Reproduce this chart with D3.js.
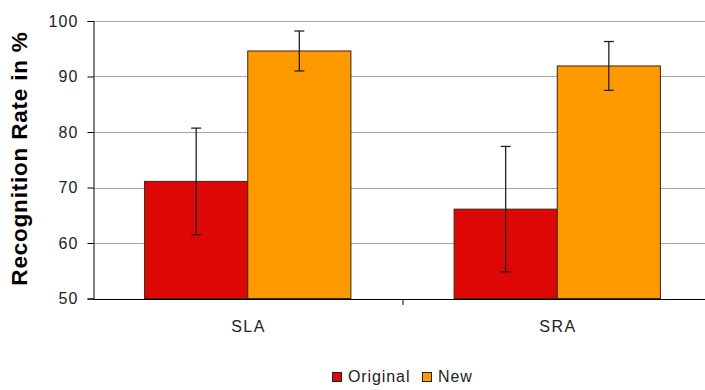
<!DOCTYPE html>
<html><head><meta charset="utf-8">
<script src="https://cdn.jsdelivr.net/npm/d3@7"></script>
<style>body{margin:0;background:#fff;overflow:hidden}svg{display:block}</style>
</head><body>
<svg id="c" width="705" height="390"></svg>
<script>
const categories = ["SLA", "SRA"];
const seriesNames = ["Original", "New"];
const originalValues = [71.1, 66.1];
const newValues = [94.6, 91.9];
const originalErrors = [9.6, 11.3];
const newErrors = [3.6, 4.4];
const yTicks = [50, 60, 70, 80, 90, 100];
const colors = ["#dd0806", "#ff9900"];

(function () {
const svg = d3.select("#c");
const pL = 93, pR = 712, pT = 21, pB = 298.5;
const x = d3.scaleBand().domain(categories).range([pL, pR]).paddingInner(0).paddingOuter(0);
const y = d3.scaleLinear().domain([50, 100]).range([pB, pT]);
const font = "Arial, 'Liberation Sans', sans-serif";

// grid
svg.append("g").selectAll("line").data(yTicks.slice(1)).join("line")
  .attr("x1", pL).attr("x2", 705).attr("y1", d => Math.round(y(d)) + 0.5).attr("y2", d => Math.round(y(d)) + 0.5)
  .attr("stroke", "#a6a6a6").attr("stroke-width", 1);

// bars
const groupW = x.bandwidth() * (2 / 3);
const barW = groupW / 2;
const data = [];
categories.forEach((c, i) => {
  data.push({c, s: 0, v: originalValues[i], e: originalErrors[i]});
  data.push({c, s: 1, v: newValues[i], e: newErrors[i]});
});
const bx = d => x(d.c) + (x.bandwidth() - groupW) / 2 + d.s * barW;
svg.append("g").selectAll("rect").data(data).join("rect")
  .attr("x", d => bx(d)).attr("y", d => y(d.v)).attr("width", barW).attr("height", d => y(50) - y(d.v))
  .attr("fill", d => colors[d.s]).attr("stroke", "#3a2418").attr("stroke-width", 1);

// error bars
const eg = svg.append("g").attr("stroke", "#222").attr("stroke-width", 1.3);
data.forEach(d => {
  const cx = bx(d) + barW / 2;
  eg.append("line").attr("x1", cx).attr("x2", cx).attr("y1", y(d.v + d.e)).attr("y2", y(d.v - d.e));
  eg.append("line").attr("x1", cx - 5).attr("x2", cx + 5).attr("y1", y(d.v + d.e)).attr("y2", y(d.v + d.e));
  eg.append("line").attr("x1", cx - 5).attr("x2", cx + 5).attr("y1", y(d.v - d.e)).attr("y2", y(d.v - d.e));
});

// y axis
const yAxis = d3.axisLeft(y).tickValues(yTicks).tickSize(6).tickPadding(10);
const ya = svg.append("g").attr("transform", `translate(${pL + 0.5},0)`).call(yAxis);
ya.select(".domain").attr("stroke", "#000");
ya.selectAll(".tick line").attr("stroke", "#000");
ya.selectAll("text").attr("font-family", font).attr("font-size", 16).attr("letter-spacing", 1.2)
  .attr("dx", 1.2).attr("fill", "#222");

// x axis
const xa = svg.append("g").attr("transform", `translate(0,${Math.round(pB) + 0.5})`)
  .call(d3.axisBottom(x).tickSize(0).tickPadding(21));
xa.select(".domain").attr("stroke", "#000").attr("d", `M${pL},0H705`);
xa.selectAll("text").attr("font-family", font).attr("font-size", 16).attr("letter-spacing", 1.5)
  .attr("dx", 0.75).attr("fill", "#222");
svg.append("line").attr("x1", x("SRA") + 0.5).attr("x2", x("SRA") + 0.5)
  .attr("y1", Math.round(pB)).attr("y2", Math.round(pB) + 6).attr("stroke", "#000");

// y label
svg.append("text").attr("transform", `translate(27,158.5) rotate(-90)`)
  .attr("text-anchor", "middle").attr("font-family", font).attr("font-weight", "bold")
  .attr("font-size", 22.5).attr("letter-spacing", 0.8).attr("fill", "#000").text("Recognition Rate in %");

// legend
const lg = svg.append("g").attr("transform", "translate(332,372)");
const legX = [0, 90];
seriesNames.forEach((n, i) => {
  const g = lg.append("g").attr("transform", `translate(${legX[i]},0)`);
  g.append("rect").attr("x", 0.5).attr("y", 0.5).attr("width", 9).attr("height", 9)
    .attr("fill", colors[i]).attr("stroke", "#222");
  g.append("text").attr("x", 16).attr("y", 10).attr("font-family", font).attr("font-size", 16)
    .attr("letter-spacing", 0.9).attr("fill", "#222").text(n);
});
})();
</script>
</body></html>
